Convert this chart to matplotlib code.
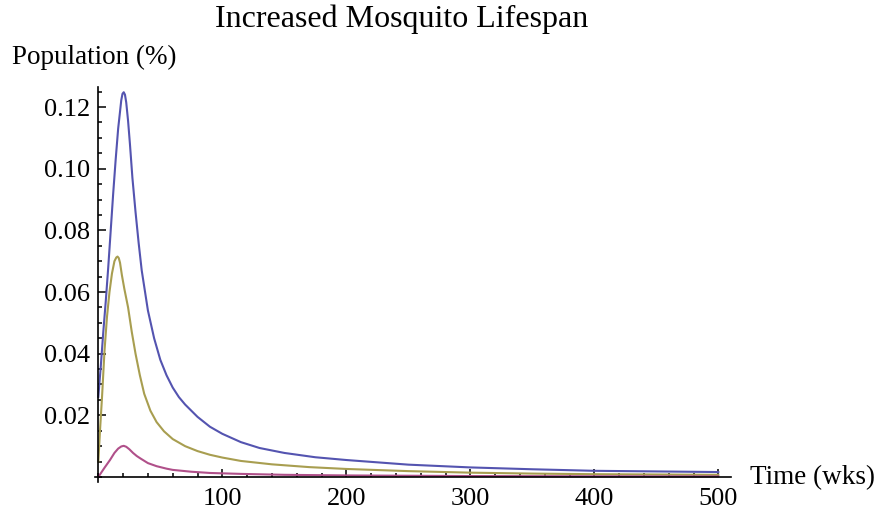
import matplotlib
matplotlib.use("Agg")
import matplotlib.pyplot as plt
from matplotlib.ticker import FixedLocator, MultipleLocator

# ---- data ----
blue_t = [0, 2, 4, 6, 8, 10, 12, 14, 16, 17.5, 18.5, 19.5, 20.5, 21.5, 22.5, 24, 25.5,
          27.5, 30, 32.5, 35, 40, 45, 50, 55, 60, 65, 70, 80, 90, 100, 115, 130, 150, 175,
          200, 250, 300, 350, 400, 450, 500]
blue_v = [0.026, 0.036, 0.047, 0.057, 0.068, 0.080, 0.092, 0.103, 0.113, 0.1185, 0.1222,
          0.1243, 0.1248, 0.1240, 0.1215, 0.1155, 0.108, 0.097, 0.086, 0.076, 0.067,
          0.054, 0.045, 0.038, 0.033, 0.029, 0.0259, 0.0235, 0.0195, 0.0163, 0.0140,
          0.0113, 0.0094, 0.0078, 0.0064, 0.0055, 0.0040, 0.0031, 0.0025, 0.0020,
          0.0018, 0.0016]

olive_t = [0, 1.5, 3, 5, 7, 9, 11, 13, 14.5, 15.5, 16.5, 17.5, 19, 21, 24, 27, 30, 33.5,
           37, 42, 47, 53, 60, 70, 80, 90, 100, 115, 140, 170, 200, 250, 300, 350, 400,
           450, 500]
olive_v = [0.005, 0.016, 0.026, 0.041, 0.052, 0.060, 0.066, 0.0700, 0.0712, 0.0715,
           0.0710, 0.0695, 0.0655, 0.061, 0.055, 0.047, 0.040, 0.033, 0.027, 0.0215,
           0.0178, 0.0148, 0.0123, 0.0100, 0.0084, 0.0072, 0.0063, 0.0052, 0.0041,
           0.0032, 0.0026, 0.0019, 0.0014, 0.0011, 0.0009, 0.0008, 0.0007]

mag_t = [0, 2, 5, 9.4, 13, 16, 18.5, 20.5, 22.5, 25, 28, 31, 34, 40, 47, 55, 60, 75, 90,
         115, 150, 200, 300, 400, 500]
mag_v = [0.0, 0.0012, 0.003, 0.0055, 0.0078, 0.0092, 0.0099, 0.0101, 0.0098, 0.0090,
         0.0078, 0.0068, 0.0060, 0.0045, 0.0035, 0.0027, 0.0023, 0.0017, 0.0013, 0.0010,
         0.0007, 0.0005, 0.0003, 0.00022, 0.00018]

x_major = [100, 200, 300, 400, 500]
x_labels = ["100", "200", "300", "400", "500"]
y_major = [0.02, 0.04, 0.06, 0.08, 0.10, 0.12]
y_labels = ["0.02", "0.04", "0.06", "0.08", "0.10", "0.12"]

title = "Increased Mosquito Lifespan"
xlabel = "Time (wks)"
ylabel = "Population (%)"

# ---- figure ----
plt.rcParams['font.family'] = ['Liberation Serif', 'DejaVu Serif']
fig = plt.figure(figsize=(8.76, 5.17), dpi=100)
ax = fig.add_axes([94.6 / 876, 1 - 481.6 / 517, (730.7 - 94.6) / 876, (481.6 - 87) / 517])

ax.plot(blue_t, blue_v, color='#5454b0', lw=1.5, solid_joinstyle='round')
ax.plot(olive_t, olive_v, color='#a89e50', lw=1.5, solid_joinstyle='round')
ax.plot(mag_t, mag_v, color='#b0508a', lw=1.5, solid_joinstyle='round')

ax.set_xlim(-3, 510)
ax.set_ylim(-0.0015, 0.1265)

for s in ['top', 'right']:
    ax.spines[s].set_visible(False)
ax.spines['left'].set_position(('data', 0))
ax.spines['bottom'].set_position(('data', 0))
for s in ['left', 'bottom']:
    ax.spines[s].set_linewidth(1.2)
    ax.spines[s].set_color('black')

ax.xaxis.set_major_locator(FixedLocator(x_major))
ax.set_xticklabels(x_labels)
ax.xaxis.set_minor_locator(MultipleLocator(20))
ax.yaxis.set_major_locator(FixedLocator(y_major))
ax.set_yticklabels(y_labels)
ax.yaxis.set_minor_locator(MultipleLocator(0.005))

ax.tick_params(which='both', direction='in', color='black', width=1.1)
ax.tick_params(which='major', length=6.0, labelsize=19, pad=6)
ax.tick_params(which='minor', length=3.2)
ax.tick_params(axis='x', which='major', pad=8)

fig.text(402 / 876, 1 - 19 / 517, title, ha='center', va='center', fontsize=23)
fig.text(12 / 876, 1 - 57 / 517, ylabel, ha='left', va='center', fontsize=19.5)
fig.text(750 / 876, 1 - 478 / 517, xlabel, ha='left', va='center', fontsize=19.5)

fig.savefig('out.png', dpi=100)
